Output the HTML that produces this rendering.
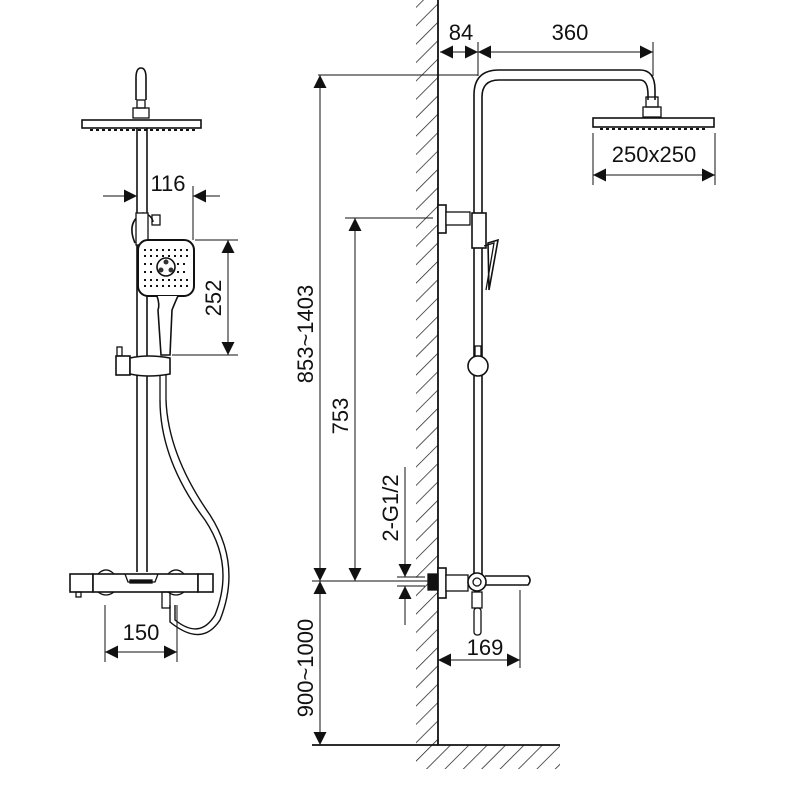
<!DOCTYPE html>
<html><head><meta charset="utf-8"><style>
html,body{margin:0;padding:0;background:#fff;width:800px;height:800px;overflow:hidden}
svg text{font-family:"Liberation Sans",sans-serif;font-size:22px;fill:#111}
</style></head><body>
<svg width="800" height="800" viewBox="0 0 800 800" xmlns="http://www.w3.org/2000/svg">
<defs>
<marker id="a" viewBox="0 0 10 10" refX="10" refY="5" markerWidth="18" markerHeight="13" markerUnits="userSpaceOnUse" orient="auto-start-reverse"><path d="M0,0L10,5L0,10z" fill="#111"/></marker>
<pattern id="h" width="13" height="13" patternUnits="userSpaceOnUse" patternTransform="rotate(45)"><line x1="0" y1="0" x2="0" y2="13" stroke="#222" stroke-width="1.5"/></pattern>
</defs>
<g stroke="#111" fill="none" stroke-width="1.3">
<rect x="416" y="0" width="22" height="745" fill="url(#h)" stroke="none"/>
<rect x="416" y="745" width="144" height="24" fill="url(#h)" stroke="none"/>
<line x1="438" y1="0" x2="438" y2="745" stroke-width="1.8"/>
<line x1="312" y1="745" x2="560" y2="745" stroke-width="1.8"/>
<!-- right pole -->
<path d="M474,580V95Q474,70 499,70H640Q655,70 655,90V100" stroke-width="1.6"/>
<path d="M482,580V97Q482,80 499,80H640Q648,80 648,95V100" stroke-width="1.6"/>
<rect x="646" y="97" width="12" height="10"/>
<rect x="643" y="107" width="18" height="10"/>
<rect x="593" y="118" width="121" height="9" stroke-width="1.6"/>
<line x1="600" y1="129" x2="708" y2="129" stroke-dasharray="3,3" stroke-width="2"/>
<rect x="438" y="205" width="8" height="28" fill="#fff" stroke-width="1.6"/>
<rect x="446" y="212" width="24" height="13" fill="#fff"/>
<rect x="472" y="213" width="14" height="35" fill="#fff" stroke-width="1.6"/>
<path d="M488,243L498,240L489,290Z" stroke-width="1.6"/>
<path d="M484,246L494,243L486,290"/>
<rect x="475" y="346" width="6" height="10"/>
<circle cx="478" cy="366" r="10" fill="#fff" stroke-width="1.6"/>
<rect x="438" y="568" width="8" height="30" fill="#fff" stroke-width="1.6"/>
<rect x="428" y="574" width="10" height="16" fill="#111"/>
<rect x="446" y="575" width="22" height="16" fill="#fff"/>
<path d="M485,576H528Q532,580 528,585H485" fill="#fff" stroke-width="1.6"/>
<circle cx="477" cy="582" r="9" fill="#fff" stroke-width="1.6"/>
<circle cx="477" cy="582" r="4"/>
<rect x="472" y="592" width="10" height="16"/>
<rect x="474" y="608" width="7" height="27" rx="3"/>
<!-- dims right -->
<line x1="478" y1="42" x2="478" y2="76" stroke-width="1"/>
<line x1="653" y1="42" x2="653" y2="76" stroke-width="1"/>
<line x1="440" y1="52" x2="478" y2="52" marker-start="url(#a)" marker-end="url(#a)" stroke-width="1"/>
<line x1="478" y1="52" x2="653" y2="52" marker-start="url(#a)" marker-end="url(#a)" stroke-width="1"/>
<line x1="318" y1="75" x2="478" y2="75" stroke-width="1"/>
<line x1="593" y1="133" x2="593" y2="185" stroke-width="1"/>
<line x1="715" y1="133" x2="715" y2="185" stroke-width="1"/>
<line x1="593" y1="175" x2="715" y2="175" marker-start="url(#a)" marker-end="url(#a)" stroke-width="1"/>
<line x1="320" y1="75" x2="320" y2="581" marker-start="url(#a)" marker-end="url(#a)" stroke-width="1"/>
<line x1="320" y1="581" x2="320" y2="745" marker-start="url(#a)" marker-end="url(#a)" stroke-width="1"/>
<line x1="345" y1="218" x2="433" y2="218" stroke-width="1"/>
<line x1="355" y1="218" x2="355" y2="581" marker-start="url(#a)" marker-end="url(#a)" stroke-width="1"/>
<line x1="312" y1="581" x2="430" y2="581" stroke-width="1"/>
<line x1="397" y1="577" x2="425" y2="577" stroke-width="1"/>
<line x1="397" y1="586" x2="425" y2="586" stroke-width="1"/>
<line x1="405" y1="467" x2="405" y2="577" marker-end="url(#a)" stroke-width="1"/>
<line x1="405" y1="586" x2="405" y2="625" marker-start="url(#a)" stroke-width="1"/>
<line x1="520" y1="590" x2="520" y2="668" stroke-width="1"/>
<line x1="438" y1="660" x2="520" y2="660" marker-start="url(#a)" marker-end="url(#a)" stroke-width="1"/>
<!-- left view -->
<path d="M136,100V78Q136,68 141,68Q146,68 146,78V100" stroke-width="1.6"/>
<rect x="137" y="100" width="8" height="8"/>
<rect x="133" y="108" width="16" height="10"/>
<rect x="82" y="120" width="119" height="8" stroke-width="1.6"/>
<line x1="90" y1="130" x2="195" y2="130" stroke-dasharray="3,3" stroke-width="2"/>
<line x1="137" y1="128" x2="137" y2="572" stroke-width="1.6"/>
<line x1="147" y1="128" x2="147" y2="572" stroke-width="1.6"/>
<path d="M135,243Q126,222 143,213Q152,215 153,222" stroke-width="1.6"/>
<rect x="136" y="213" width="12" height="32" fill="#fff"/>
<rect x="152" y="215" width="8" height="10"/>
<line x1="103" y1="196" x2="137" y2="196" marker-end="url(#a)" stroke-width="1"/>
<line x1="193" y1="196" x2="220" y2="196" marker-start="url(#a)" stroke-width="1"/>
<line x1="193" y1="186" x2="193" y2="240" stroke-width="1"/>
<rect x="138" y="240" width="56" height="56" rx="10" fill="#fff" stroke-width="2"/>
<circle cx="166" cy="267" r="9" stroke-width="1.6"/>
<g stroke="none" fill="#333">
<circle cx="166" cy="262" r="2.5"/><circle cx="161" cy="270" r="2.5"/><circle cx="171" cy="270" r="2.5"/>
</g>
<g stroke-width="2" stroke-dasharray="2,4">
<line x1="144" y1="250" x2="188" y2="250"/><line x1="144" y1="256" x2="188" y2="256"/>
<line x1="144" y1="280" x2="188" y2="280"/><line x1="144" y1="286" x2="188" y2="286"/>
<line x1="144" y1="264" x2="155" y2="264"/><line x1="177" y1="264" x2="188" y2="264"/>
<line x1="144" y1="272" x2="155" y2="272"/><line x1="177" y1="272" x2="188" y2="272"/>
</g>
<path d="M157,296Q160,305 158,310L161,355H170L172,310Q176,300 178,296" fill="#fff" stroke-width="1.6"/>
<line x1="195" y1="240" x2="238" y2="240" stroke-width="1"/>
<line x1="172" y1="355" x2="238" y2="355" stroke-width="1"/>
<line x1="228" y1="240" x2="228" y2="355" marker-start="url(#a)" marker-end="url(#a)" stroke-width="1"/>
<rect x="117" y="347" width="5" height="9"/>
<rect x="116" y="356" width="14" height="19" fill="#fff" stroke-width="1.6"/>
<path d="M130,358Q148,354 170,358V374Q148,378 130,374Z" fill="#fff" stroke-width="1.6"/>
<line x1="160" y1="375" x2="160" y2="400"/>
<line x1="166" y1="375" x2="166" y2="400"/>
<path d="M160,400Q160,460 205,520Q235,565 215,615Q200,640 175,620V605" stroke-width="1.4"/>
<path d="M166,400Q168,455 210,515Q242,565 220,620Q202,648 170,622V605" stroke-width="1.4"/>
<rect x="70" y="574" width="23" height="18" fill="#fff" stroke-width="1.6"/>
<rect x="93" y="574" width="105" height="18" fill="#fff" stroke-width="1.6"/>
<rect x="198" y="574" width="15" height="18" fill="#fff" stroke-width="1.6"/>
<path d="M98,574Q106,566 114,574M98,592Q106,598 114,592M168,574Q176,566 184,574M168,592Q176,598 184,592"/>
<path d="M125,574L128,582H155L158,574"/>
<rect x="130" y="580" width="22" height="3" fill="#111"/>
<rect x="76" y="592" width="5" height="5"/>
<rect x="162" y="592" width="8" height="16"/>
<line x1="105" y1="605" x2="105" y2="662" stroke-width="1"/>
<line x1="177" y1="605" x2="177" y2="662" stroke-width="1"/>
<line x1="105" y1="652" x2="177" y2="652" marker-start="url(#a)" marker-end="url(#a)" stroke-width="1"/>
</g>
<text x="168" y="191" text-anchor="middle">116</text>
<text transform="translate(221,298) rotate(-90)" text-anchor="middle">252</text>
<text x="141" y="640" text-anchor="middle">150</text>
<text x="461" y="40" text-anchor="middle">84</text>
<text x="570" y="40" text-anchor="middle">360</text>
<text x="654" y="162" text-anchor="middle">250x250</text>
<text transform="translate(313,334) rotate(-90)" text-anchor="middle">853~1403</text>
<text transform="translate(348,416) rotate(-90)" text-anchor="middle">753</text>
<text transform="translate(398,508) rotate(-90)" text-anchor="middle">2-G1/2</text>
<text transform="translate(313,668) rotate(-90)" text-anchor="middle">900~1000</text>
<text x="485" y="655" text-anchor="middle">169</text>
</svg>
</body></html>
